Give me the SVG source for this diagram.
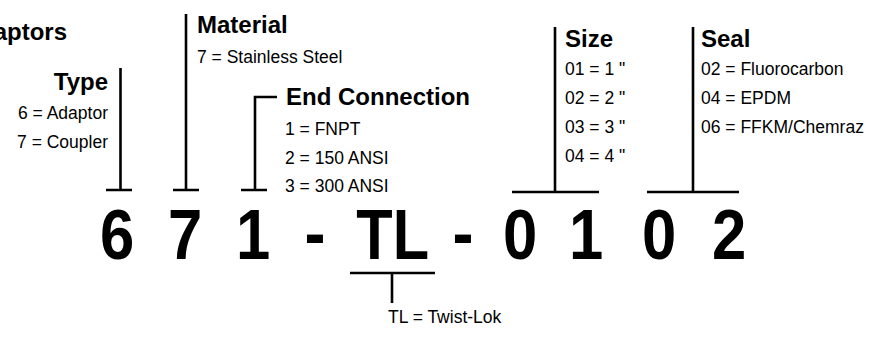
<svg xmlns="http://www.w3.org/2000/svg" width="875" height="339" viewBox="0 0 875 339">
<style>
.h{font-family:"Liberation Sans",Arial,sans-serif;font-weight:bold;font-size:24px;fill:#000}
.t{font-family:"Liberation Sans",Arial,sans-serif;font-size:17.5px;fill:#000}
.big{font-family:"Liberation Sans",Arial,sans-serif;font-weight:bold;font-size:70px;fill:#000;text-anchor:middle}
.ln{stroke:#000;stroke-width:2.6;fill:none}
</style>
<rect width="875" height="339" fill="#fff"/>
<g id="title"><text class="h" x="67" y="40" text-anchor="end">Adaptors</text></g>
<g id="code">
<text class="big" transform="translate(117 259) scale(0.88 1)">6</text>
<text class="big" transform="translate(185 259) scale(0.88 1)">7</text>
<text class="big" transform="translate(253 259) scale(0.88 1)">1</text>
<text class="big" transform="translate(315 257) scale(0.9 1)">-</text>
<text class="big" transform="translate(374.5 259) scale(0.85 1)">T</text>
<text class="big" transform="translate(411 259) scale(0.85 1)">L</text>
<text class="big" transform="translate(463 257) scale(0.9 1)">-</text>
<text class="big" transform="translate(520 259) scale(0.88 1)">0</text>
<text class="big" transform="translate(586 259) scale(0.88 1)">1</text>
<text class="big" transform="translate(659 259) scale(0.88 1)">0</text>
<text class="big" transform="translate(729 259) scale(0.88 1)">2</text>
</g>
<g id="type">
<text class="h" x="108" y="90" text-anchor="end">Type</text>
<text class="t" x="108" y="119" text-anchor="end">6 = Adaptor</text>
<text class="t" x="108" y="148" text-anchor="end">7 = Coupler</text>
</g>
<g id="material">
<text class="h" x="197" y="33">Material</text>
<text class="t" x="197" y="63">7 = Stainless Steel</text>
</g>
<g id="end-connection">
<text class="h" x="286" y="105">End Connection</text>
<text class="t" x="285" y="135">1 = FNPT</text>
<text class="t" x="285" y="164">2 = 150 ANSI</text>
<text class="t" x="285" y="192">3 = 300 ANSI</text>
</g>
<g id="size">
<text class="h" x="565" y="47">Size</text>
<text class="t" x="565" y="75">01 = 1 "</text>
<text class="t" x="565" y="104">02 = 2 "</text>
<text class="t" x="565" y="133">03 = 3 "</text>
<text class="t" x="565" y="162">04 = 4 "</text>
</g>
<g id="seal">
<text class="h" x="701" y="47">Seal</text>
<text class="t" x="701" y="75">02 = Fluorocarbon</text>
<text class="t" x="701" y="104">04 = EPDM</text>
<text class="t" x="701" y="133">06 = FFKM/Chemraz</text>
</g>
<g id="twist-lok">
<text class="t" x="388" y="323">TL = Twist-Lok</text>
</g>
<g id="connectors">
<path class="ln" d="M120.5 68V190M106 190H132"/>
<path class="ln" d="M186 14V190M173 190H199"/>
<path class="ln" d="M277 97H255V190M241 190H267"/>
<path class="ln" d="M555 27V192M512 192H599"/>
<path class="ln" d="M693 27V192M647 192H739"/>
<path class="ln" d="M350 273H435M392 273V303"/>
</g>
</svg>
